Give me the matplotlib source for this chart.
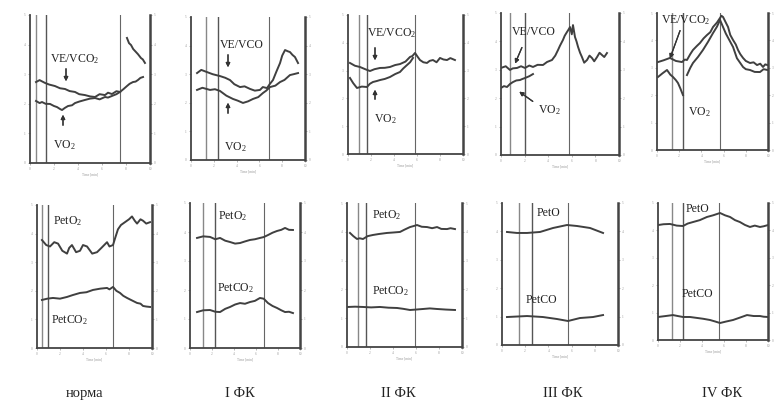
### Importing useful packages
import numpy as np
import matplotlib
matplotlib.use('Agg')
import matplotlib.pyplot as plt

plt.rcParams['font.family'] = ['Liberation Serif', 'DejaVu Serif']
plt.rcParams['mathtext.default'] = 'regular'

### Data (time and value in % of each panel's axis)

## Top row: VE/VCO2 and VO2
norm_t_ve = [5, 8, 12.5, 16, 20.8, 25, 29.2, 33, 37.5, 41, 45.8, 50, 54.2, 58, 62.5, 65, 68.3, 72, 75, 78, 80.8, 83, 85.8, 88, 90, 92, 94.2]
norm_ve = [54.7, 56, 54.1, 53, 52, 50.5, 50, 48.6, 48, 46.5, 45.9, 45, 44.6, 46.5, 45.9, 47.5, 46.6, 48.5, 48, 50, 52, 53.5, 54.7, 55, 56.1, 57.5, 58.1]
norm_t_rec = [80.8, 82.5, 84.2, 86, 88.3, 90, 92.5, 94, 95.8]
norm_rec = [84.5, 81, 79.7, 77, 75, 73.5, 70.9, 70, 67.6]
norm_t_vo = [5, 8, 10, 13, 16.7, 20, 22.5, 25, 26.7, 29, 31.7, 35, 37.5, 41, 45.8, 50, 54.2, 58, 62.5, 65, 68.3, 72, 75]
norm_vo = [41.9, 40.5, 41.2, 40, 39.9, 38.5, 37.8, 36.5, 35.8, 37.2, 38.5, 39, 40.5, 41.5, 42.6, 43.5, 43.9, 43, 44.6, 44.2, 45.3, 46.5, 48]

fk1_t_ve = [5.3, 9, 14, 19, 25.4, 30, 34.2, 38, 43, 47, 51.8, 56, 60.5, 63, 66.7, 69, 71.9, 75, 78.1, 80, 82.5, 85, 86.8, 89, 91.2, 93.9]
fk1_ve = [60.8, 63, 61.5, 60, 58.7, 57.5, 55.9, 53, 51, 51.5, 49.7, 48.5, 49, 51, 50.3, 53, 55.9, 62, 67.8, 73, 76.9, 76, 75.5, 73.5, 72, 67.8]
fk1_t_vo = [5.3, 10, 16.7, 21, 25.4, 31, 36.8, 41, 45.6, 50, 54.4, 59, 63.2, 66, 69.3, 74, 78.1, 82, 86.8, 90, 93.9]
fk1_vo = [49, 50.5, 49, 49.5, 48.3, 45, 42.7, 41.5, 39.9, 41, 42.7, 44, 46.9, 48.5, 51, 52, 54.5, 56, 59.4, 60, 60.8]

fk2_t_ve = [1.7, 6, 10.4, 15, 19.1, 23, 27.8, 32, 36.5, 41, 45.2, 50, 53.9, 56, 58.3, 60.5, 62.6, 65.5, 68.7, 71, 73.9, 77, 80, 83, 86.1, 89, 93]
fk2_ve = [65.5, 63.5, 62.6, 61, 59.7, 61, 61.9, 62, 62.6, 64, 64.7, 66.5, 69.8, 70.5, 72.7, 70, 67.6, 66, 65.5, 67, 67.6, 66, 69.1, 68, 67.6, 69, 67.6]
fk2_t_vo = [1.7, 4.5, 7.8, 12, 16.5, 19, 21.7, 25, 27.8, 32, 36.5, 41, 45.2, 48, 51.3, 54, 56.5]
fk2_vo = [54.7, 51, 47.5, 48.5, 48.2, 50.5, 51.8, 52.5, 53.2, 54, 55.4, 57.5, 59, 61.5, 64, 66, 69.1]

fk3_t_ve = [0, 4, 7.6, 10, 13.6, 17, 20.3, 24, 27.1, 31, 35.6, 39, 43.2, 46, 48.3, 50, 52.5, 54, 55.9, 57, 58.5, 60, 61, 62.7, 64, 65.3, 67, 68.6, 70.5, 72.9, 75, 77.1, 79, 81.4, 83.5, 85.6, 87.5, 89.8]
fk3_ve = [61.3, 62.5, 59.9, 61, 61.3, 62.5, 61.3, 63, 62, 63.5, 63.4, 65.5, 66.9, 70, 73.9, 77, 81, 84, 86.6, 88, 90.1, 85, 91.5, 83.1, 80, 76.1, 72, 69, 65, 66.9, 70, 68.3, 66, 69, 72, 70.4, 69, 71.8]
fk3_t_vo = [0, 2.5, 5.1, 7.6, 10.2, 13, 16.1, 18, 20.3, 24, 27.1]
fk3_vo = [47.2, 48.5, 47.9, 50, 51.4, 52.5, 52.8, 53.5, 54.2, 55.5, 57]

fk4_t_ve = [0.9, 6, 11.7, 17, 22.5, 25, 27, 30, 32.4, 36, 38.7, 42, 45, 48, 50.5, 54, 56.8, 58, 59.5, 62, 64, 66, 68.5, 71, 73, 75, 77.5, 80, 83.8, 87, 90.1, 93, 95.5, 97.5, 99.5]
fk4_ve = [64.2, 65.5, 67.2, 65, 64.2, 66, 65.7, 70, 73, 76, 78.1, 81.5, 83.9, 86, 89.8, 93, 96.4, 98, 97.1, 93, 89.8, 84, 80.3, 77, 73, 70, 67.2, 65, 63.5, 64, 62, 63, 60.6, 62.5, 62]
fk4_t_vco = [27, 30, 32.4, 37, 41.4, 46, 50.5, 54, 56.8, 62, 68.5, 72, 77.5, 80, 83.8, 88, 92.8, 96, 99.5]
fk4_vco = [54.7, 60, 63.5, 68, 73, 79, 85.4, 90, 94.9, 85, 75.2, 67, 60.6, 59, 58.4, 57, 56.9, 59, 58.4]
fk4_t_vo = [0.9, 5, 9, 12, 14.4, 17, 18.9, 21, 23.4]
fk4_vo = [53.3, 56, 58.4, 55, 53.3, 51, 48.9, 45, 40.1]

## Bottom row: PetO2 and PetCO2
norm_t_po = [4.3, 8, 11.3, 15, 18.3, 22, 26.1, 28, 30.4, 34, 37.4, 40, 43.5, 48, 52.2, 56, 60.9, 63, 66.1, 68, 70.4, 73, 76.5, 80, 82.6, 85, 87, 90, 92.2, 95, 98.3]
norm_po = [75.5, 72, 71, 74, 73, 68, 66, 70, 72, 67, 68, 72, 71, 66, 67, 70, 74, 71, 72, 77, 83, 86, 88, 90, 92, 89, 87, 90, 89, 87, 88]
norm_t_pc = [4.3, 9, 13.9, 20, 26.1, 31, 37.4, 43, 48.7, 55, 60.9, 63, 66.1, 69, 72.2, 75, 78.3, 82, 87, 90, 92.2, 95, 98.3]
norm_pc = [33.6, 34.5, 35, 34.5, 35.7, 37, 38.5, 39, 40.6, 41.5, 42, 41, 42.7, 40, 38.5, 36.5, 35, 33.5, 31.5, 31, 29.4, 29, 28.7]

fk1_t_p = [6.4, 12, 18.2, 23, 27.3, 32, 36.4, 41, 45.5, 50, 54.5, 59, 63.6, 67, 70.9, 75, 79.1, 83, 86.4, 90, 93.6]
fk1_po = [75.9, 77, 76.6, 75, 75.9, 74, 73.1, 72, 72.4, 73.5, 74.5, 75, 75.9, 76.5, 77.9, 79.5, 80.7, 81.5, 82.8, 81.5, 81.4]
fk1_pc = [24.8, 26, 26.2, 25, 24.8, 27, 28.3, 30, 31, 30.5, 31.7, 32.5, 34.5, 34, 31, 29, 27.6, 26, 24.8, 25, 24.1]

fk2_t_po = [2.6, 5.5, 8.7, 11, 13.9, 18, 22.6, 28, 34.8, 40, 46.1, 50, 54.8, 58, 60.9, 65, 69.6, 74, 78.3, 82, 87, 90, 93.9]
fk2_po = [79.2, 77, 75, 75.5, 75, 77, 77.8, 78.5, 79.2, 79.5, 79.9, 81.5, 83.3, 84, 84.7, 83.5, 83.3, 82.5, 83.3, 82, 81.9, 82.5, 81.9]
fk2_t_pc = [0.9, 7, 13.9, 21, 28.7, 36, 43.5, 49, 54.8, 60, 66.1, 72, 78.3, 86, 93.9]
fk2_pc = [27.8, 28, 27.8, 27.5, 27.8, 27.3, 27.1, 26.5, 25.7, 26, 26.4, 26.8, 26.4, 26, 25.7]

fk3_t_po = [4.3, 12.9, 21.6, 32.8, 44, 56, 64.7, 75.9, 87.1]
fk3_po = [79.6, 78.9, 78.9, 79.6, 82.4, 84.5, 83.8, 82.4, 78.9]
fk3_t_pc = [4.3, 21.6, 35.3, 47.4, 56.9, 67.2, 78.4, 87.1]
fk3_pc = [19.7, 20.4, 19.7, 18.3, 16.9, 19, 19.7, 21.1]

fk4_t_po = [0, 5, 10.9, 17, 22.7, 27, 31.8, 38, 44.5, 50, 56.4, 61, 65.5, 70, 74.5, 79, 83.6, 88, 92.7, 96, 100]
fk4_po = [83.9, 84.5, 84.7, 83.5, 83.2, 85, 86.1, 87.5, 89.8, 91, 92.7, 91, 89.8, 87.5, 86.1, 84, 82.5, 83.5, 82.5, 83, 83.9]
fk4_t_pc = [0, 7, 13.6, 18, 22.7, 29, 35.5, 41, 47.3, 52, 56.4, 62, 68.2, 75, 80.9, 87, 92.7, 96, 100]
fk4_pc = [16.8, 17.5, 18.2, 17.5, 16.8, 16.8, 16.1, 15.5, 14.6, 13.5, 12.4, 13.5, 14.6, 16.5, 18.2, 17.5, 17.5, 17, 16.8]

## Phase markers (time, % of axis)
top_marks = [[5, 13.3, 75], [13.2, 23.7, 68.4], [9.6, 16.5, 58.3], [7.6, 20.3, 57.6], [13.5, 23.4, 56.8]]
bot_marks = [[4.3, 9.6, 66.1], [11.8, 22.7, 67.3], [9.6, 16.5, 59.1], [14.7, 25.9, 56.9], [12.7, 22.7, 55.5]]

captions = ['норма', 'I ФК', 'II ФК', 'III ФК', 'IV ФК']

### Layout in pixels of the 777x407 picture (left, top, right, bottom)
top_boxes = [(30, 15, 150, 163), (191, 17, 305, 160), (348, 15, 463, 154), (501, 13, 619, 155), (657, 13, 768, 150)]
bot_boxes = [(37, 205, 152, 348), (190, 203, 300, 348), (347, 203, 462, 347), (502, 203, 618, 345), (658, 203, 768, 340)]

W, H = 777, 407
fig = plt.figure(figsize=(W / 100, H / 100), dpi=100)


### Convert pixel coordinates to figure fractions
def px(x, y):
    return (x / W, 1 - y / H)


### Make one small panel
def panel(box, marks):
    l, t, r, b = box
    ax = fig.add_axes([l / W, 1 - b / H, (r - l) / W, (b - t) / H])
    ax.set_xlim(0, 100)
    ax.set_ylim(0, 100)
    ax.spines['top'].set_visible(False)
    for s in ['left', 'bottom']:
        ax.spines[s].set_linewidth(1.3)
        ax.spines[s].set_color('#444444')
    ax.spines['right'].set_linewidth(1.8)
    ax.spines['right'].set_color('#444444')
    ax.tick_params(axis='both', length=1.5, width=0.5, colors='#999999', labelsize=2.5, pad=1.5)
    ax.tick_params(axis='y', right=True, labelright=True)
    ax.set_xticks([0, 20, 40, 60, 80, 100])
    ax.set_xticklabels(['0', '2', '4', '6', '8', '10'])
    ax.set_yticks([0, 20, 40, 60, 80, 100])
    ax.set_yticklabels(['0', '1', '2', '3', '4', '5'])
    ax.set_xlabel('Time [min]', fontsize=2.5, color='#999999', labelpad=1)
    ## Phase lines
    ax.axvline(marks[0], color='#888888', lw=1.0)
    ax.axvline(marks[1], color='#555555', lw=1.0)
    ax.axvline(marks[2], color='#666666', lw=0.8)
    return ax


line_kw = dict(color='#404040', lw=1.4)
arrow_kw = dict(arrowstyle='-|>', lw=0.9, color='#333333', mutation_scale=6)

## Top row panels
ax = panel(top_boxes[0], top_marks[0])
ax.plot(norm_t_ve, norm_ve, **line_kw)
ax.plot(norm_t_rec, norm_rec, **line_kw)
ax.plot(norm_t_vo, norm_vo, **line_kw)

ax = panel(top_boxes[1], top_marks[1])
ax.plot(fk1_t_ve, fk1_ve, **line_kw)
ax.plot(fk1_t_vo, fk1_vo, **line_kw)

ax = panel(top_boxes[2], top_marks[2])
ax.plot(fk2_t_ve, fk2_ve, **line_kw)
ax.plot(fk2_t_vo, fk2_vo, **line_kw)

ax = panel(top_boxes[3], top_marks[3])
ax.plot(fk3_t_ve, fk3_ve, **line_kw)
ax.plot(fk3_t_vo, fk3_vo, **line_kw)

ax = panel(top_boxes[4], top_marks[4])
ax.plot(fk4_t_ve, fk4_ve, **line_kw)
ax.plot(fk4_t_vco, fk4_vco, **line_kw)
ax.plot(fk4_t_vo, fk4_vo, **line_kw)

## Bottom row panels
ax = panel(bot_boxes[0], bot_marks[0])
ax.plot(norm_t_po, norm_po, **line_kw)
ax.plot(norm_t_pc, norm_pc, **line_kw)

ax = panel(bot_boxes[1], bot_marks[1])
ax.plot(fk1_t_p, fk1_po, **line_kw)
ax.plot(fk1_t_p, fk1_pc, **line_kw)

ax = panel(bot_boxes[2], bot_marks[2])
ax.plot(fk2_t_po, fk2_po, **line_kw)
ax.plot(fk2_t_pc, fk2_pc, **line_kw)

ax = panel(bot_boxes[3], bot_marks[3])
ax.plot(fk3_t_po, fk3_po, **line_kw)
ax.plot(fk3_t_pc, fk3_pc, **line_kw)

ax = panel(bot_boxes[4], bot_marks[4])
ax.plot(fk4_t_po, fk4_po, **line_kw)
ax.plot(fk4_t_pc, fk4_pc, **line_kw)

### Curve labels with arrows
fs = 8.5
fig.text(*px(50, 62), 'VE/VCO$_2$', fontsize=fs, color='#222222')
fig.text(*px(53, 148), 'VO$_2$', fontsize=fs, color='#222222')
fig.add_artist(plt.annotate('', xy=px(66, 84), xytext=px(66, 66), xycoords='figure fraction', arrowprops=arrow_kw))
fig.add_artist(plt.annotate('', xy=px(63, 112), xytext=px(63, 128), xycoords='figure fraction', arrowprops=arrow_kw))

fig.text(*px(220, 48), 'VE/VCO', fontsize=fs, color='#222222')
fig.text(*px(224, 150), 'VO$_2$', fontsize=fs, color='#222222')
fig.add_artist(plt.annotate('', xy=px(228, 70), xytext=px(228, 52), xycoords='figure fraction', arrowprops=arrow_kw))
fig.add_artist(plt.annotate('', xy=px(228, 100), xytext=px(228, 116), xycoords='figure fraction', arrowprops=arrow_kw))

fig.text(*px(367, 36), 'VE/VCO$_2$', fontsize=fs, color='#222222')
fig.text(*px(374, 122), 'VO$_2$', fontsize=fs, color='#222222')
fig.add_artist(plt.annotate('', xy=px(375, 63), xytext=px(375, 45), xycoords='figure fraction', arrowprops=arrow_kw))
fig.add_artist(plt.annotate('', xy=px(375, 87), xytext=px(375, 102), xycoords='figure fraction', arrowprops=arrow_kw))

fig.text(*px(512, 35), 'VE/VCO', fontsize=fs, color='#222222')
fig.text(*px(538, 113), 'VO$_2$', fontsize=fs, color='#222222')
fig.add_artist(plt.annotate('', xy=px(514, 66), xytext=px(523, 45), xycoords='figure fraction', arrowprops=arrow_kw))
fig.add_artist(plt.annotate('', xy=px(517, 90), xytext=px(535, 103), xycoords='figure fraction', arrowprops=arrow_kw))

fig.text(*px(661, 23), 'VE/VCO$_2$', fontsize=fs, color='#222222')
fig.text(*px(688, 115), 'VO$_2$', fontsize=fs, color='#222222')
fig.add_artist(plt.annotate('', xy=px(669, 61), xytext=px(681, 28), xycoords='figure fraction', arrowprops=arrow_kw))

fig.text(*px(53, 224), 'PetO$_2$', fontsize=fs, color='#222222')
fig.text(*px(51, 323), 'PetCO$_2$', fontsize=fs, color='#222222')
fig.text(*px(218, 219), 'PetO$_2$', fontsize=fs, color='#222222')
fig.text(*px(217, 291), 'PetCO$_2$', fontsize=fs, color='#222222')
fig.text(*px(372, 218), 'PetO$_2$', fontsize=fs, color='#222222')
fig.text(*px(372, 294), 'PetCO$_2$', fontsize=fs, color='#222222')
fig.text(*px(537, 216), 'PetO', fontsize=fs, color='#222222')
fig.text(*px(526, 303), 'PetCO', fontsize=fs, color='#222222')
fig.text(*px(686, 212), 'PetO', fontsize=fs, color='#222222')
fig.text(*px(682, 297), 'PetCO', fontsize=fs, color='#222222')

### Group captions
cap_x = [85, 240, 398, 563, 722]
for cx, cap in zip(cap_x, captions):
    fig.text(*px(cx, 397), cap, fontsize=10.5, ha='center', color='#222222')

fig.savefig('out.png', dpi=100)
